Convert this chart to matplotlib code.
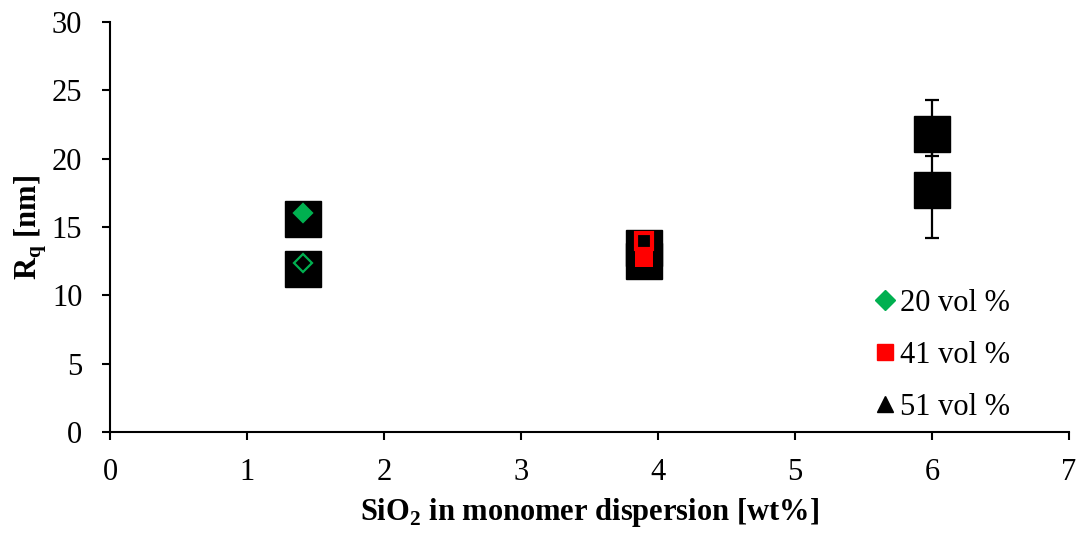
import matplotlib.pyplot as plt
from matplotlib.lines import Line2D
import numpy as np

plt.rcParams['font.family'] = ['Liberation Serif', 'DejaVu Serif']
plt.rcParams['mathtext.fontset'] = 'custom'
plt.rcParams['mathtext.bf'] = 'Liberation Serif:bold'
plt.rcParams['mathtext.rm'] = 'Liberation Serif'

# --- data ---
# black square backgrounds (51 vol %)
x_black = [1.41, 1.41, 3.9, 3.9, 6.0, 6.0]
rq_black = [15.6, 11.9, 13.5, 12.5, 21.8, 17.7]
# error bars only visible at 6 wt%
x_err = [6.0, 6.0]
rq_err = [21.8, 17.7]
err_low = [1.6, 3.5]
err_high = [2.5, 3.5]
# 20 vol % (green diamonds): filled and open
x_20 = [1.41, 1.41]
rq_20 = [16.0, 12.4]
fill_20 = [True, False]
# 41 vol % (red squares): open and filled
x_41 = [3.9, 3.9]
rq_41 = [14.0, 12.7]
fill_41 = [False, True]

legend_labels = ['20 vol %', '41 vol %', '51 vol %']
GREEN = '#00B050'
RED = '#FF0000'

fig = plt.figure(figsize=(10.79, 5.38), dpi=100)
ax = fig.add_axes([0.102, 0.197, 0.8887, 0.762])

ax.errorbar(x_err, rq_err, yerr=[err_low, err_high], fmt='none', ecolor='black',
            elinewidth=1.6, capsize=5, capthick=1.6, zorder=1)
ax.plot(x_black, rq_black, 's', color='black', ms=26.5, ls='none', zorder=2)

for x, y, f in zip(x_20, rq_20, fill_20):
    ax.plot(x, y, 'D', ms=9, mec=GREEN, mfc=GREEN if f else 'none', mew=1.6, zorder=3)
for x, y, f in zip(x_41, rq_41, fill_41):
    if f:
        ax.plot(x, y, 's', ms=13.5, mec=RED, mfc=RED, mew=0, zorder=3)
    else:
        ax.plot(x, y, 's', ms=11, mec=RED, mfc='none', mew=3, zorder=4)

ax.set_xlim(0, 7)
ax.set_ylim(0, 30)
ax.set_xticks(np.arange(0, 8, 1))
ax.set_yticks(np.arange(0, 31, 5))
ax.spines['top'].set_visible(False)
ax.spines['right'].set_visible(False)
for s in ['left', 'bottom']:
    ax.spines[s].set_linewidth(1.5)
ax.tick_params(axis='both', direction='out', length=6, width=1.5, labelsize=22)
ax.tick_params(axis='y', pad=14)
ax.tick_params(axis='x', pad=13)

ax.set_xlabel('SiO$_\\mathbf{2}$ in monomer dispersion [wt%]', fontsize=22, fontweight='bold', labelpad=6)
ax.set_ylabel('R$_\\mathbf{q}$ [nm]', fontsize=22, fontweight='bold', labelpad=2)

handles = [
    Line2D([], [], marker='D', color=GREEN, ls='none', ms=10),
    Line2D([], [], marker='s', color=RED, ls='none', ms=12),
    Line2D([], [], marker='^', color='black', ls='none', ms=12),
]
ax.legend(handles, legend_labels, loc='lower right', bbox_to_anchor=(0.958, -0.02),
          frameon=False, fontsize=22, handlelength=0.6, handletextpad=0.2,
          labelspacing=0.75, borderaxespad=0.2)

fig.savefig('out.png', dpi=100)
